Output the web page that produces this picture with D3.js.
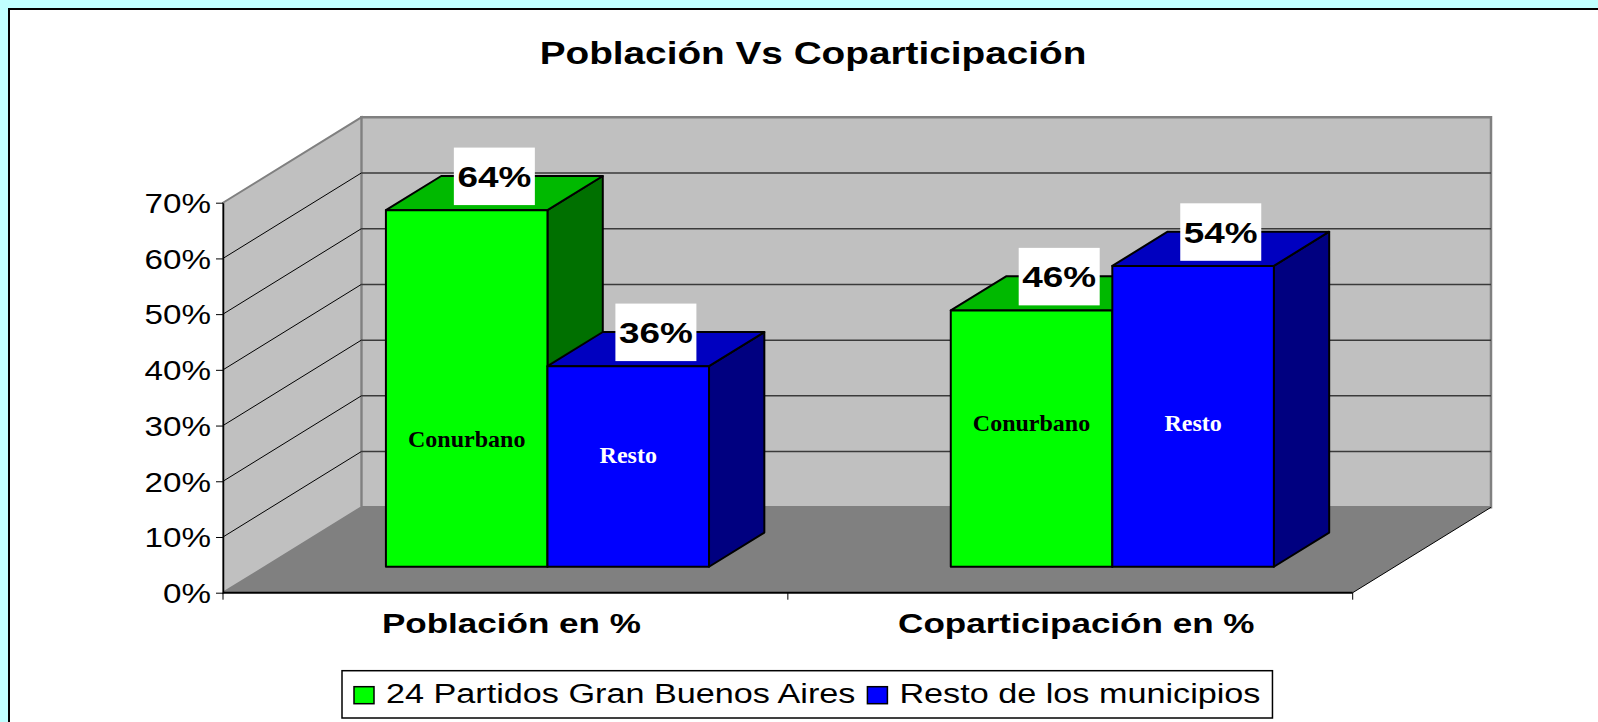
<!DOCTYPE html>
<html>
<head>
<meta charset="utf-8">
<script src="https://cdn.jsdelivr.net/npm/d3@7"></script>
<style>
  body { margin: 0; background: #c0ffff; }
  svg { display: block; }
</style>
</head>
<body>
<svg></svg>
<script>
// chart data
const categories = ["Población en %", "Coparticipación en %"];
const seriesNames = ["24 Partidos Gran Buenos Aires", "Resto de los municipios"];
const conurbano = [64, 46];
const resto = [36, 54];
const barTags = ["Conurbano", "Resto"];
// height (in %) where the text inside each bar sits, per series then category
const tagLevel = [[21.5, 24.4], [18.6, 24.4]];
const yTicks = [0, 10, 20, 30, 40, 50, 60, 70];

const series = [conurbano, resto];
const front = ["#00ff00", "#0000ff"];
const topCol = ["#00b900", "#0000c0"];
const sideCol = ["#007000", "#000080"];
const tagCol = ["#000", "#fff"];

const svgWidth = 1598, svgHeight = 722;
const stretch = 1.23; // chart text is drawn a bit wide
const sans = "'Liberation Sans', Arial, sans-serif";

const svg = d3.select("svg").attr("width", svgWidth).attr("height", svgHeight);

// white page frame
svg.append("rect")
  .attr("x", 9).attr("y", 9).attr("width", svgWidth + 20).attr("height", svgHeight + 20)
  .attr("fill", "white").attr("stroke", "black").attr("stroke-width", 2);

// scales
const y = d3.scaleLinear().domain([0, 70]).range([592.7, 202.7]);
const x = d3.scaleBand().domain(categories).range([223, 1352.7]).paddingInner(0.428).paddingOuter(0.214);
const xs = d3.scaleBand().domain(d3.range(series.length)).range([0, x.bandwidth()]);

// oblique depth
const DX = 138.3, DY = -85.4;
const z0 = 0.304, z1 = 0.704;
const P = (px, v, z) => [px + z * DX, y(v) + z * DY];
const poly = pts => "M" + pts.map(p => p.join(",")).join("L") + "Z";

const x0 = x.range()[0], x1 = x.range()[1];

// walls and floor
svg.append("path")
  .attr("d", poly([P(x0, 0, 1), P(x1, 0, 1), P(x1, 70, 1), P(x0, 70, 1)]))
  .attr("fill", "#c0c0c0").attr("stroke", "#808080").attr("stroke-width", 2.5);
svg.append("path")
  .attr("d", poly([P(x0, 0, 0), P(x0, 70, 0), P(x0, 70, 1), P(x0, 0, 1)]))
  .attr("fill", "#c0c0c0").attr("stroke", "#808080").attr("stroke-width", 2);
svg.append("path")
  .attr("d", poly([P(x0, 0, 0), P(x1, 0, 0), P(x1, 0, 1), P(x0, 0, 1)]))
  .attr("fill", "#808080");
svg.append("path")
  .attr("d", "M" + P(x1, 0, 0) + "L" + P(x1, 0, 1))
  .attr("stroke", "#000").attr("stroke-width", 1);

// gridlines
const grid = yTicks.filter(t => t > 0 && t < 70);
svg.append("g").selectAll("path").data(grid).join("path")
  .attr("d", t => "M" + P(x0, t, 1) + "L" + P(x1, t, 1))
  .attr("stroke", "#3a3a3a").attr("stroke-width", 1.5);
svg.append("g").selectAll("path").data(grid).join("path")
  .attr("d", t => "M" + P(x0, t, 0) + "L" + P(x0, t, 1))
  .attr("stroke", "#000").attr("stroke-width", 1);

// y axis
const yAxis = svg.append("g")
  .attr("transform", `translate(${x0},0)`)
  .call(d3.axisLeft(y).tickValues(yTicks).tickFormat(d => d + "%").tickSize(7).tickSizeOuter(0));
yAxis.select(".domain").attr("stroke", "#000").attr("stroke-width", 1.5);
yAxis.selectAll(".tick line").attr("stroke", "#000");
yAxis.selectAll(".tick text")
  .attr("font-family", sans).attr("font-size", 27).attr("fill", "#000")
  .attr("x", -12 / stretch).attr("dy", "0.36em")
  .attr("transform", `scale(${stretch},1)`);

// x axis line, ticks at category boundaries
svg.append("path")
  .attr("d", `M${x0},${y(0)}H${x1}`)
  .attr("stroke", "#000").attr("stroke-width", 2);
const bounds = d3.range(categories.length + 1).map(i => x0 + i * x.step());
svg.append("g").selectAll("line").data(bounds).join("line")
  .attr("x1", d => d).attr("x2", d => d)
  .attr("y1", y(0)).attr("y2", y(0) + 7)
  .attr("stroke", "#000");
svg.append("g").selectAll("text").data(categories).join("text")
  .attr("transform", d => `translate(${x(d) + x.bandwidth() / 2 + 6},633) scale(${stretch},1)`)
  .attr("text-anchor", "middle")
  .attr("font-family", sans).attr("font-weight", "bold").attr("font-size", 28.5)
  .text(d => d);

// bars
const bars = [];
categories.forEach((c, ci) => {
  series.forEach((s, si) => {
    bars.push({ c, ci, si, v: s[ci], xa: x(c) + xs(si), xb: x(c) + xs(si) + xs.bandwidth() });
  });
});

const gb = svg.append("g").attr("stroke", "#000").attr("stroke-width", 2).attr("stroke-linejoin", "round");
bars.forEach(b => {
  const g = gb.append("g");
  g.append("path").attr("fill", sideCol[b.si])
    .attr("d", poly([P(b.xb, 0, z0), P(b.xb, 0, z1), P(b.xb, b.v, z1), P(b.xb, b.v, z0)]));
  g.append("path").attr("fill", topCol[b.si])
    .attr("d", poly([P(b.xa, b.v, z0), P(b.xb, b.v, z0), P(b.xb, b.v, z1), P(b.xa, b.v, z1)]));
  g.append("path").attr("fill", front[b.si])
    .attr("d", poly([P(b.xa, 0, z0), P(b.xb, 0, z0), P(b.xb, b.v, z0), P(b.xa, b.v, z0)]));
});

// text inside the bars
svg.append("g").selectAll("text").data(bars).join("text")
  .attr("x", b => P((b.xa + b.xb) / 2, 0, z0)[0])
  .attr("y", b => P(0, tagLevel[b.si][b.ci], z0)[1])
  .attr("text-anchor", "middle")
  .attr("font-family", "'Liberation Serif', 'Times New Roman', serif")
  .attr("font-weight", "bold").attr("font-size", 24)
  .attr("fill", b => tagCol[b.si])
  .text(b => barTags[b.si]);

// value labels in white boxes
const zm = (z0 + z1) / 2;
const lab = svg.append("g").selectAll("g").data(bars).join("g")
  .attr("transform", b => {
    const p = P((b.xa + b.xb) / 2, b.v, zm);
    return `translate(${p[0]},${p[1] + 12})`;
  });
lab.append("rect")
  .attr("x", -40.5).attr("y", -57.5).attr("width", 81).attr("height", 57.5)
  .attr("fill", "white");
lab.append("text")
  .attr("transform", `translate(0,-18) scale(${stretch},1)`)
  .attr("text-anchor", "middle")
  .attr("font-family", sans).attr("font-weight", "bold").attr("font-size", 30)
  .text(b => b.v + "%");

// title
svg.append("text")
  .attr("transform", `translate(813,64) scale(${stretch},1)`)
  .attr("text-anchor", "middle")
  .attr("font-family", sans).attr("font-weight", "bold").attr("font-size", 31.5)
  .text("Población Vs Coparticipación");

// legend
const leg = svg.append("g");
const legBox = leg.append("rect")
  .attr("y", 670.7).attr("height", 47.3)
  .attr("fill", "white").attr("stroke", "#000").attr("stroke-width", 1.5);
let lx = 354;
seriesNames.forEach((name, i) => {
  leg.append("rect")
    .attr("x", lx).attr("y", 686.7).attr("width", 20).attr("height", 17)
    .attr("fill", front[i]).attr("stroke", "#000").attr("stroke-width", 1.5);
  const t = leg.append("text")
    .attr("transform", `translate(${lx + 32},703) scale(${stretch},1)`)
    .attr("font-family", sans).attr("font-size", 27.8)
    .text(name);
  lx += 32 + t.node().getComputedTextLength() * stretch + 12;
});
legBox.attr("x", 342).attr("width", lx - 342);
</script>
</body>
</html>
